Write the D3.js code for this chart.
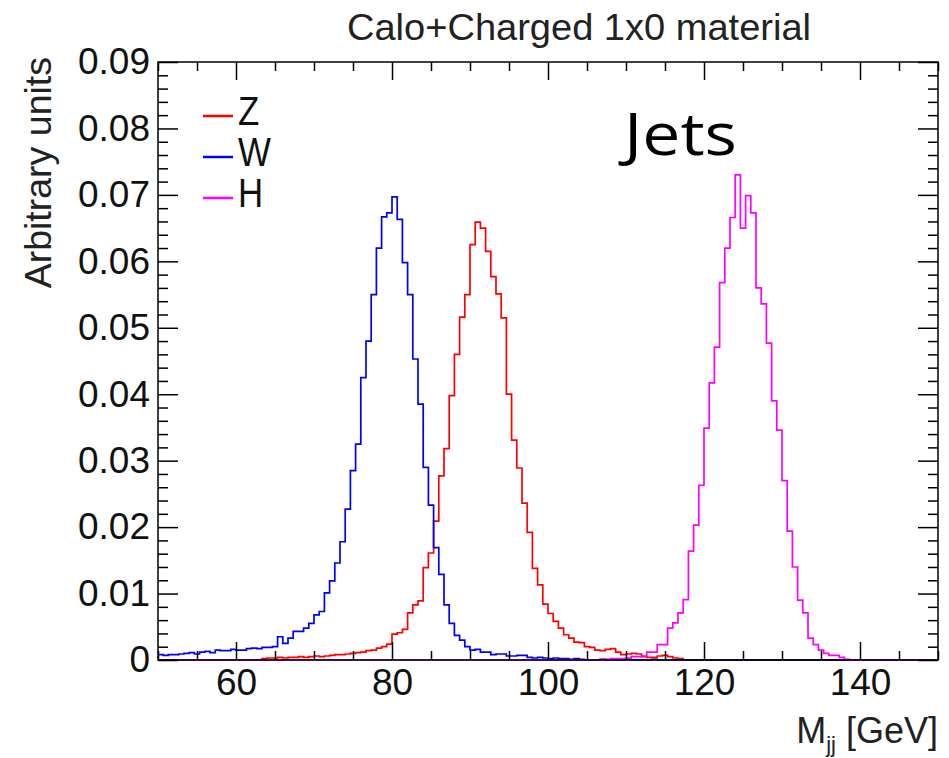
<!DOCTYPE html>
<html><head><meta charset="utf-8">
<script src="https://cdn.jsdelivr.net/npm/d3@7"></script>
<style>body{margin:0;background:#fff}svg{display:block}</style>
</head><body>
<svg id="c" width="949" height="758"></svg>
<script>
const xMin = 50, xMax = 150, nBins = 150;
const seriesNames = ["Z", "W", "H"];
const seriesColors = ["#ff0000", "#0000ff", "#ff00ff"];
const zValues = [
0,0,0,0,0,0,0,0,0,0,
0,0,0,0,0,0,0,0,0,0,
0.0002,0.0003,0.0003,0.0004,0.0003,0.0004,0.0004,0.0005,0.0004,0.0005,
0.0006,0.0005,0.0006,0.0007,0.0008,0.0008,0.0009,0.0010,0.0011,0.0012,
0.0014,0.0015,0.0018,0.0020,0.0024,0.0039,0.0041,0.0046,0.0071,0.0083,
0.0089,0.0139,0.0161,0.0209,0.0277,0.0318,0.0398,0.0460,0.0516,0.0550,
0.0625,0.0659,0.0650,0.0615,0.0577,0.0551,0.0515,0.0400,0.0331,0.0289,
0.0236,0.0192,0.0138,0.0113,0.0084,0.0070,0.0058,0.0048,0.0038,0.0033,
0.0027,0.0026,0.0020,0.0019,0.0015,0.0014,0.0016,0.0017,0.0012,0.0008,
0.0009,0.0010,0.0009,0.0005,0.0004,0.0004,0.0006,0.0007,0.0005,0.0003,
0.0002,0,0,0,0,0,0,0,0,0,
0,0,0,0,0,0,0,0,0,0,
0,0,0,0,0,0,0,0,0,0,
0,0,0,0,0,0,0,0,0,0,
0,0,0,0,0,0,0,0,0,0];
const wValues = [
0.0008,0.0007,0.0008,0.0008,0.0009,0.0010,0.0011,0.0009,0.0012,0.0013,
0.0011,0.0015,0.0014,0.0014,0.0016,0.0015,0.0015,0.0017,0.0018,0.0017,
0.0019,0.0019,0.0020,0.0035,0.0025,0.0033,0.0043,0.0043,0.0048,0.0055,
0.0068,0.0073,0.0101,0.0119,0.0146,0.0178,0.0227,0.0285,0.0325,0.0425,
0.0480,0.0550,0.0620,0.0667,0.0673,0.0697,0.0663,0.0598,0.0550,0.0453,
0.0385,0.0290,0.0233,0.0169,0.0129,0.0083,0.0055,0.0037,0.0030,0.0020,
0.0015,0.0016,0.0012,0.0012,0.0008,0.0009,0.0009,0.0006,0.0006,0.0007,
0.0007,0.0004,0.0003,0.0004,0.0003,0.0002,0.0003,0.0002,0.0002,0.0001,
0.0002,0.0001,0,0,0,0.0001,0,0,0,0,
0.0001,0,0,0,0,0.0001,0,0,0,0,
0,0,0,0,0,0,0,0,0,0,
0,0,0,0,0,0,0,0,0,0,
0,0,0,0,0,0,0,0,0,0,
0,0,0,0,0,0,0,0,0,0,
0,0,0,0,0,0,0,0,0,0];
const hValues = [
0,0,0,0,0,0,0,0,0,0,
0,0,0,0,0,0,0,0,0,0,
0,0,0,0,0,0,0,0,0,0,
0,0,0,0,0,0,0,0,0,0,
0,0,0,0,0,0,0,0,0,0,
0,0,0,0,0,0,0,0,0,0,
0,0,0,0,0,0,0,0,0,0,
0,0,0,0,0,0,0,0,0,0,
0,0,0,0,0,0.0001,0.0001,0.0002,0.0002,0.0002,
0.0003,0.0005,0.0005,0.0006,0.0012,0.0012,0.0023,0.0023,0.0048,0.0056,
0.0071,0.0091,0.0164,0.0203,0.0263,0.0349,0.0417,0.0471,0.0568,0.0620,
0.0666,0.0730,0.0650,0.0699,0.0673,0.0560,0.0536,0.0477,0.0390,0.0346,
0.0270,0.0194,0.0140,0.0090,0.0071,0.0033,0.0023,0.0015,0.0010,0.0007,
0.0007,0.0004,0.0001,0,0,0,0,0,0,0,
0,0,0,0,0,0,0,0,0,0];
const xTickValues = [60, 80, 100, 120, 140];
const yTickValues = [0, 0.01, 0.02, 0.03, 0.04, 0.05, 0.06, 0.07, 0.08, 0.09];
const yTickLabels = ["0", "0.01", "0.02", "0.03", "0.04", "0.05", "0.06", "0.07", "0.08", "0.09"];
const titleText = "Calo+Charged 1x0 material";
const yTitle = "Arbitrary units";
const annotation = "Jets";

const L = 158, R = 938, T = 62, B = 660;
const svg = d3.select("#c");
const font = "'Liberation Sans', Arial, Helvetica, sans-serif";
const x = d3.scaleLinear().domain([xMin, xMax]).range([L, R]);
const y = d3.scaleLinear().domain([0, 0.09]).range([B, T]);
const binW = (xMax - xMin) / nBins;

// histograms
const line = d3.line().curve(d3.curveStepAfter).x(d => x(d[0])).y(d => y(d[1]));
[zValues, wValues, hValues].forEach((vals, si) => {
  const pts = vals.map((v, i) => [xMin + i * binW, v]);
  pts.push([xMax, vals[vals.length - 1]]);
  svg.append("path").attr("d", line(pts)).attr("fill", "none")
    .attr("stroke", seriesColors[si]).attr("stroke-width", 1.7);
});

// axes
const minorX = d3.range(50, 151, 5).filter(v => !xTickValues.includes(v));
const minorY = d3.range(0, 46).map(i => +(i * 0.002).toFixed(4)).filter(v => Math.abs(v*100 - Math.round(v*100)) > 1e-6);
function styleAxis(g, size) {
  g.select(".domain").remove();
  g.selectAll("line").attr("stroke", "#000").attr("stroke-width", 1.5);
  g.selectAll("text").attr("font-family", font).attr("font-size", size).attr("fill", "#111");
}
const gxB = svg.append("g").attr("transform", `translate(0,${B})`)
  .call(d3.axisBottom(x).tickValues(xTickValues).tickSize(-18).tickPadding(9).tickFormat(d3.format("d")));
styleAxis(gxB, 37);
const gxBm = svg.append("g").attr("transform", `translate(0,${B})`)
  .call(d3.axisBottom(x).tickValues(minorX).tickSize(-9).tickFormat(""));
styleAxis(gxBm, 0);
const gxT = svg.append("g").attr("transform", `translate(0,${T})`)
  .call(d3.axisTop(x).tickValues(xTickValues).tickSize(-18).tickFormat(""));
styleAxis(gxT, 0);
const gxTm = svg.append("g").attr("transform", `translate(0,${T})`)
  .call(d3.axisTop(x).tickValues(minorX).tickSize(-9).tickFormat(""));
styleAxis(gxTm, 0);
const gyL = svg.append("g").attr("transform", `translate(${L},0)`)
  .call(d3.axisLeft(y).tickValues(yTickValues).tickSize(-20).tickPadding(8).tickFormat((d, i) => yTickLabels[i]));
styleAxis(gyL, 37);
const gyLm = svg.append("g").attr("transform", `translate(${L},0)`)
  .call(d3.axisLeft(y).tickValues(minorY).tickSize(-10).tickFormat(""));
styleAxis(gyLm, 0);
const gyR = svg.append("g").attr("transform", `translate(${R},0)`)
  .call(d3.axisRight(y).tickValues(yTickValues).tickSize(-20).tickFormat(""));
styleAxis(gyR, 0);
const gyRm = svg.append("g").attr("transform", `translate(${R},0)`)
  .call(d3.axisRight(y).tickValues(minorY).tickSize(-10).tickFormat(""));
styleAxis(gyRm, 0);

svg.append("rect").attr("x", L).attr("y", T).attr("width", R - L).attr("height", B - T)
  .attr("fill", "none").attr("stroke", "#000").attr("stroke-width", 1.5);

// title
svg.append("text").attr("x", 579).attr("y", 40).attr("text-anchor", "middle")
  .attr("font-family", font).attr("font-size", 36).attr("fill", "#222")
  .attr("textLength", 464).attr("lengthAdjust", "spacingAndGlyphs").text(titleText);

// y title
svg.append("text").attr("transform", "translate(51,57) rotate(-90)").attr("text-anchor", "end")
  .attr("font-family", font).attr("font-size", 37.5).attr("fill", "#222").text(yTitle);

// x title
const xt = svg.append("text").attr("x", 938).attr("y", 743).attr("text-anchor", "end")
  .attr("font-family", font).attr("font-size", 36).attr("fill", "#222");
xt.append("tspan").text("M");
xt.append("tspan").attr("font-size", 22).attr("dy", 9).text("jj");
xt.append("tspan").attr("dy", -9).text(" [GeV]");

// Jets annotation
svg.append("text").attr("x", 624).attr("y", 155).attr("font-family", "'Open Sans', sans-serif")
  .attr("font-weight", 400).attr("font-size", 58).attr("fill", "#000")
  .attr("textLength", 113).attr("lengthAdjust", "spacingAndGlyphs").text(annotation);

// legend
seriesNames.forEach((n, i) => {
  const ly = 116 + i * 41;
  svg.append("line").attr("x1", 203).attr("x2", 233).attr("y1", ly).attr("y2", ly)
    .attr("stroke", seriesColors[i]).attr("stroke-width", 2.5);
  svg.append("text").attr("transform", `translate(238,${ly + 9}) scale(0.85,1)`)
    .attr("font-family", font).attr("font-size", 41).attr("fill", "#111").text(n);
});
</script>
</body></html>
